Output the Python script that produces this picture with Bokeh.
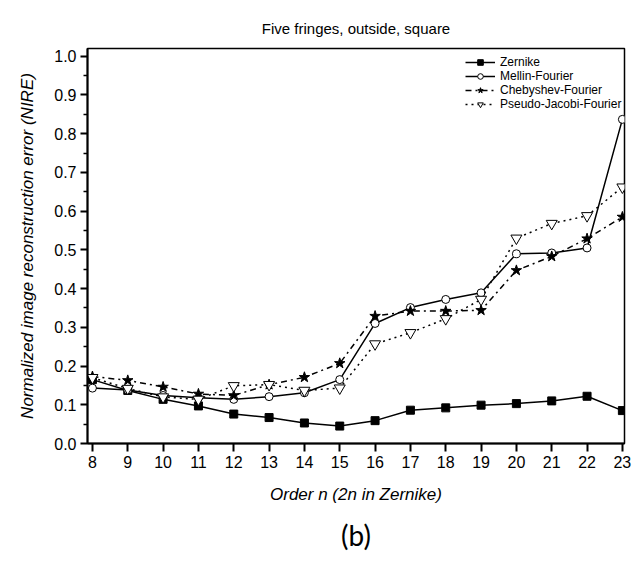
from bokeh.plotting import figure
from bokeh.models import Legend, LegendItem, FixedTicker, Title, CustomJSTickFormatter
from bokeh.embed import file_html
from bokeh.resources import INLINE

orders = [8, 9, 10, 11, 12, 13, 14, 15, 16, 17, 18, 19, 20, 21, 22, 23]
zernike = [0.165, 0.137, 0.114, 0.097, 0.076, 0.067, 0.053, 0.045, 0.059, 0.086, 0.092, 0.099, 0.103, 0.110, 0.122, 0.085]
mellin = [0.143, 0.138, 0.124, 0.118, 0.114, 0.121, 0.131, 0.165, 0.310, 0.351, 0.372, 0.389, 0.490, 0.492, 0.505, 0.837]
chebyshev = [0.173, 0.163, 0.146, 0.128, 0.124, 0.152, 0.171, 0.207, 0.329, 0.342, 0.342, 0.344, 0.447, 0.483, 0.529, 0.585]
pjf = [0.170, 0.142, 0.120, 0.114, 0.149, 0.152, 0.137, 0.143, 0.257, 0.286, 0.322, 0.372, 0.530, 0.568, 0.588, 0.662]
series_names = ["Zernike", "Mellin-Fourier", "Chebyshev-Fourier", "Pseudo-Jacobi-Fourier"]
y_ticks = [0.0, 0.1, 0.2, 0.3, 0.4, 0.5, 0.6, 0.7, 0.8, 0.9, 1.0]

FONT = "Liberation Sans"

p = figure(width=641, height=567, x_range=(7.86, 23.06), y_range=(0, 1.02),
           output_backend="svg", toolbar_location=None,
           min_border_left=87, min_border_right=17, min_border_top=48, min_border_bottom=124,
           title="Five fringes, outside, square")
p.background_fill_color = "white"
p.border_fill_color = "white"
p.grid.visible = False
p.outline_line_color = "black"
p.outline_line_width = 1.5

p.title.align = "center"
p.title.text_font = FONT
p.title.text_font_size = "15px"
p.title.text_font_style = "normal"
p.title.text_color = "black"
p.title.standoff = 24

p.xaxis.ticker = FixedTicker(ticks=orders, minor_ticks=[])
p.yaxis.ticker = FixedTicker(ticks=y_ticks, minor_ticks=[v + 0.05 for v in y_ticks[:-1]])
p.yaxis.formatter = CustomJSTickFormatter(code="return tick.toFixed(1);")
for ax in (p.xaxis[0], p.yaxis[0]):
    ax.axis_line_width = 2
    ax.axis_line_color = "black"
    ax.major_tick_line_width = 2
    ax.major_tick_line_color = "black"
    ax.minor_tick_line_width = 1.5
    ax.minor_tick_line_color = "black"
    ax.major_tick_in = 0
    ax.minor_tick_in = 0
    ax.major_label_text_font = FONT
    ax.major_label_text_font_size = "16px"
    ax.major_label_text_color = "black"
    ax.axis_label_text_font = FONT
    ax.axis_label_text_font_size = "17px"
    ax.axis_label_text_font_style = "italic"
    ax.axis_label_text_color = "black"
p.yaxis.major_tick_out = 7
p.yaxis.minor_tick_out = 4
p.xaxis.major_tick_out = 8
p.yaxis.major_label_standoff = 4
p.xaxis.major_label_standoff = 4
p.yaxis.axis_label = "Normalized image reconstruction error (NIRE)"
p.xaxis.axis_label = "Order n (2n in Zernike)"
p.yaxis.axis_label_standoff = 14
p.xaxis.axis_label_standoff = 14

styles = [
    (zernike, "solid", "square", "black", 8),
    (mellin, "solid", "circle", "white", 8),
    (chebyshev, "dashdot", "star", "black", 11),
    (pjf, "2 4", "inverted_triangle", "white", 11),
]
items = []
for (vals, dash, marker, fill, size), name in zip(styles, series_names):
    l = p.line(orders, vals, line_color="black", line_width=1.5, line_dash=dash)
    s = p.scatter(orders, vals, marker=marker, size=size, fill_color=fill,
                  line_color="black", line_width=1)
    items.append(LegendItem(label=name, renderers=[l, s]))

legend = Legend(items=items, location=(378, 332), orientation="vertical",
                label_text_font=FONT, label_text_font_size="12px", label_text_color="black",
                glyph_width=30, glyph_height=14, label_height=14, spacing=0,
                padding=0, margin=0, label_standoff=5,
                border_line_color=None, background_fill_alpha=0)
p.add_layout(legend, "center")

p.add_layout(Title(text="(b)", align="center", text_font="Lato", text_color="black",
                   text_font_size="28px", text_font_style="normal", standoff=19), "below")

open("out.html", "w").write(file_html(p, INLINE))
